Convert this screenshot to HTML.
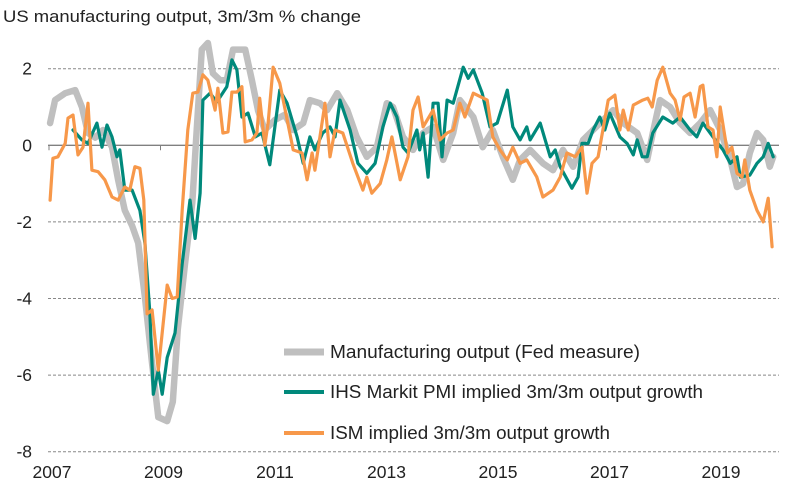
<!DOCTYPE html>
<html><head><meta charset="utf-8"><style>
html,body{margin:0;padding:0;background:#fff;}
svg{display:block;font-family:"Liberation Sans",Arial,sans-serif;}
</style></head><body>
<svg id="chart" width="796" height="488" viewBox="0 0 796 488">
<text x="3" y="22" font-size="17" fill="#222" textLength="358" lengthAdjust="spacingAndGlyphs">US manufacturing output, 3m/3m % change</text>
<g id="grid"></g><g id="axes"></g><g id="series"></g>
<g id="legend">
<line x1="284" y1="352" x2="324" y2="352" stroke="#bfbfbf" stroke-width="7"/>
<text x="330" y="358" font-size="18" fill="#222" textLength="310" lengthAdjust="spacingAndGlyphs">Manufacturing output (Fed measure)</text>
<line x1="284" y1="392" x2="324" y2="392" stroke="#00897b" stroke-width="4"/>
<text x="330" y="398" font-size="18" fill="#222" textLength="373" lengthAdjust="spacingAndGlyphs">IHS Markit PMI implied 3m/3m output growth</text>
<line x1="284" y1="433" x2="324" y2="433" stroke="#f7984a" stroke-width="4"/>
<text x="330" y="439" font-size="18" fill="#222" textLength="280" lengthAdjust="spacingAndGlyphs">ISM implied 3m/3m output growth</text>
</g>
</svg>
<script>
// years since Jan 2007
const fedT=[0.02,0.11,0.29,0.47,0.59,0.70,0.83,0.97,1.13,1.24,1.36,1.49,1.60,1.72,1.85,1.96,2.12,2.22,2.31,2.44,2.57,2.65,2.74,2.85,2.94,3.07,3.19,3.30,3.52,3.64,3.75,3.87,4.05,4.23,4.38,4.56,4.68,4.86,4.99,5.17,5.35,5.52,5.70,5.88,6.06,6.17,6.35,6.53,6.71,6.89,7.07,7.25,7.37,7.61,7.78,7.96,8.14,8.32,8.45,8.63,8.86,9.04,9.22,9.40,9.58,9.76,9.94,10.12,10.30,10.55,10.73,10.83,10.96,11.14,11.32,11.50,11.68,11.86,12.04,12.22,12.34,12.45,12.57,12.70,12.81,12.93,12.99];
const fedV=[0.58,1.18,1.36,1.44,1.0,0.32,0.2,0.4,-0.05,-0.9,-1.7,-2.1,-2.55,-3.96,-5.7,-7.1,-7.2,-6.7,-4.8,-3.1,-1.5,0.4,2.5,2.67,1.88,1.7,1.7,2.5,2.5,1.7,0.9,0.4,0.66,0.8,0.4,0.58,1.18,1.1,0.92,1.36,0.92,0.22,-0.3,-0.05,1.1,1.0,0.22,-0.12,0.32,0.48,-0.38,0.32,1.18,0.74,-0.05,0.4,-0.3,-0.9,-0.38,-0.12,-0.47,-0.65,-0.12,-0.56,0.14,0.4,0.66,0.92,0.58,0.32,-0.38,0.32,1.18,1.0,0.58,0.32,0.58,0.92,0.4,-0.38,-1.09,-1.0,-0.2,0.32,0.14,-0.56,-0.3];
const ihsT=[0.43,0.59,0.70,0.86,0.95,1.04,1.13,1.22,1.27,1.36,1.49,1.63,1.72,1.81,1.87,1.96,2.03,2.12,2.26,2.39,2.53,2.62,2.71,2.76,2.89,3.01,3.19,3.28,3.37,3.46,3.57,3.70,3.82,3.96,4.14,4.27,4.45,4.56,4.68,4.77,4.91,5.04,5.13,5.22,5.40,5.54,5.70,5.85,5.99,6.12,6.24,6.35,6.44,6.60,6.65,6.71,6.80,6.89,6.98,7.05,7.14,7.25,7.43,7.52,7.61,7.77,7.91,8.04,8.22,8.32,8.45,8.57,8.63,8.81,8.99,9.08,9.17,9.38,9.49,9.56,9.67,9.76,9.88,9.97,10.06,10.24,10.37,10.48,10.55,10.64,10.73,10.83,11.01,11.19,11.32,11.50,11.62,11.73,11.91,12.09,12.22,12.34,12.40,12.57,12.70,12.81,12.90,12.99];
const ihsV=[0.4,0.14,0.05,0.58,-0.05,0.53,0.22,-0.3,-0.12,-1.17,-1.17,-1.7,-2.55,-4.4,-6.5,-5.87,-6.5,-5.54,-4.9,-3.09,-1.43,-2.43,-1.25,1.18,1.36,1.13,1.53,2.23,1.97,0.74,0.84,0.22,0.32,-0.51,1.44,1.1,0.22,-0.47,0.22,-0.12,0.32,0.48,0.22,1.18,0.4,-0.47,-0.73,-0.47,0.48,1.1,0.74,-0.05,-0.2,0.4,-0.12,0.32,-0.83,1.1,1.1,-0.3,1.18,1.1,2.04,1.75,1.97,1.36,0.48,0.58,1.44,0.48,0.14,0.48,0.14,0.58,-0.3,-0.12,-0.56,-1.12,-0.83,0.05,0.05,0.4,0.74,0.4,0.84,0.22,0.05,-0.25,0.14,-0.3,-0.3,0.32,0.74,0.58,0.74,0.4,0.22,0.58,0.22,-0.12,-0.47,-0.3,-0.83,-0.78,-0.47,-0.3,0.05,-0.3];
const ismT=[0.02,0.07,0.16,0.29,0.34,0.43,0.52,0.61,0.70,0.77,0.88,1.00,1.13,1.24,1.36,1.45,1.54,1.63,1.70,1.76,1.85,1.96,2.12,2.21,2.30,2.39,2.49,2.58,2.67,2.76,2.85,2.98,3.03,3.12,3.21,3.28,3.37,3.46,3.52,3.64,3.73,3.78,3.87,3.93,4.02,4.14,4.38,4.54,4.63,4.72,4.77,4.95,5.04,5.13,5.27,5.45,5.63,5.70,5.79,5.94,6.06,6.15,6.30,6.44,6.53,6.62,6.71,6.89,7.01,7.14,7.25,7.37,7.46,7.61,7.86,7.96,8.09,8.22,8.32,8.45,8.57,8.75,8.86,9.04,9.17,9.29,9.44,9.56,9.65,9.74,9.85,10.03,10.15,10.24,10.30,10.39,10.48,10.65,10.74,10.82,10.91,11.01,11.14,11.23,11.32,11.39,11.50,11.59,11.68,11.73,11.82,11.91,11.98,12.04,12.17,12.25,12.34,12.43,12.48,12.57,12.70,12.81,12.90,12.97];
const ismV=[-1.43,-0.34,-0.3,0.05,0.71,0.79,-0.25,-0.05,1.1,-0.65,-0.69,-0.9,-1.35,-1.43,-1.09,-1.17,-0.56,-0.6,-1.43,-4.4,-4.3,-5.87,-3.65,-4.0,-3.96,-1.69,0.4,1.36,1.39,1.84,1.7,0.92,1.49,0.32,0.35,1.39,1.39,1.53,0.09,0.14,0.32,1.23,0.0,0.58,2.04,1.62,-0.12,-0.2,-0.9,-0.2,-0.65,1.1,-0.3,0.4,0.32,-0.47,-1.17,-0.83,-1.25,-1.0,-0.38,0.22,-0.9,-0.3,0.92,1.26,0.48,0.92,0.14,0.32,0.4,1.1,0.74,1.36,1.18,0.22,-0.12,-0.38,-0.05,-0.47,-0.38,-0.83,-1.35,-1.17,-0.83,-0.2,-0.3,-0.05,-1.25,-0.47,-0.3,1.18,1.31,0.4,0.92,0.4,1.05,1.18,1.23,1.0,1.7,2.04,1.36,1.18,0.66,1.26,1.36,0.74,1.53,1.57,0.48,0.4,-0.3,1.0,-0.2,-0.05,-0.73,-0.83,-0.38,-1.17,-1.7,-2.0,-1.38,-2.65];
const yTicks=[2,0,-2,-4,-6,-8];
const xTickLabels=["2007","2009","2011","2013","2015","2017","2019"];
const xTickYears=[0,2,4,6,8,10,12];

const NS="http://www.w3.org/2000/svg";
const X0=49,XPY=55.75,Y0=145.3,YPU=38.3;
function sx(t){return X0+t*XPY;}
function sy(v){return Y0-v*YPU;}
function mk(tag,attrs,parent){const e=document.createElementNS(NS,tag);for(const k in attrs)e.setAttribute(k,attrs[k]);parent.appendChild(e);return e;}
const grid=document.getElementById('grid'),axes=document.getElementById('axes'),ser=document.getElementById('series');
yTicks.forEach(v=>{
  if(v!==0){const l=mk('line',{x1:48,x2:779,y1:sy(v),y2:sy(v),stroke:'#888','stroke-width':1,'stroke-dasharray':'3,2'},grid);
  
  }
  const t=mk('text',{x:32,y:sy(v)+6,'font-size':17.5,'text-anchor':'end',fill:'#222'},axes);
  t.textContent=String(v);
  
  
});
const ax=mk('line',{x1:48,x2:779,y1:sy(0),y2:sy(0),stroke:'#808080','stroke-width':1.3},axes);


xTickYears.forEach((t,i)=>{
  const tk=mk('line',{x1:sx(t),x2:sx(t),y1:sy(0),y2:sy(0)+5,stroke:'#808080','stroke-width':1},axes);
  
  
  const lb=mk('text',{x:sx(t)+3,y:478,'font-size':17.5,'text-anchor':'middle',fill:'#222'},axes);
  lb.textContent=xTickLabels[i];
  
  
});
function line(T,V,color,w,name){
  const d=T.map((t,i)=>(i?'L':'M')+sx(t).toFixed(1)+','+sy(V[i]).toFixed(1)).join('');
  const p=mk('path',{d:d,fill:'none',stroke:color,'stroke-width':w,'stroke-linejoin':'round','stroke-linecap':'round'},ser);
  
  
}
line(fedT,fedV,'#bfbfbf',6.5,'series-fed-output');
line(ihsT,ihsV,'#00897b',3.2,'series-ihs-markit');
line(ismT,ismV,'#f7984a',3.2,'series-ism');
</script>
</body></html>
